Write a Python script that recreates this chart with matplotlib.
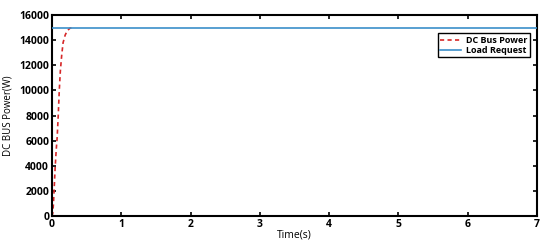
import matplotlib
matplotlib.use("Agg")
import matplotlib.pyplot as plt

t_dc = [0, 0.01, 0.02, 0.03, 0.045, 0.06, 0.075, 0.09, 0.105, 0.12, 0.14, 0.16, 0.19, 0.22, 0.26, 0.29]
p_dc = [0, 200, 900, 2000, 3800, 5200, 6300, 8000, 10000, 11500, 12800, 13800, 14400, 14750, 14950, 15000]
t_load = [0, 7]
p_load = [15000, 15000]
xticks = [0, 1, 2, 3, 4, 5, 6, 7]
yticks = [0, 2000, 4000, 6000, 8000, 10000, 12000, 14000, 16000]

plt.rcParams['font.family'] = ['Open Sans', 'DejaVu Sans']
fig = plt.figure(figsize=(5.5, 2.46), dpi=100)
ax = fig.add_axes([52/550, 1-216/246, 485/550, 201/246])
ax.plot(t_dc, p_dc, color='#d62728', ls=(0, (2.5, 2)), lw=1.2, label='DC Bus Power', zorder=2)
ax.plot(t_load, p_load, color='#3b8fc9', lw=1.2, label='Load Request', zorder=3)
ax.set_xlim(0, 7)
ax.set_ylim(0, 16000)
ax.set_xticks(xticks)
ax.set_yticks(yticks)
ax.tick_params(direction='in', top=True, right=True, length=3, width=1.2, labelsize=7.5, pad=2)
for lab in ax.get_xticklabels() + ax.get_yticklabels():
    lab.set_fontweight('bold')
for s in ax.spines.values():
    s.set_linewidth(1.5)
ax.set_xlabel('Time(s)', fontsize=7.5, labelpad=0)
ax.set_ylabel('DC BUS Power(W)', fontsize=7, labelpad=4)
leg = ax.legend(loc='upper right', bbox_to_anchor=(0.985, 0.91), fontsize=6.5, frameon=True,
                fancybox=False, edgecolor='black', framealpha=1, borderpad=0.3,
                handlelength=2.3, labelspacing=0.1, handletextpad=0.5, borderaxespad=0)
leg.get_frame().set_linewidth(1.0)
for txt in leg.get_texts():
    txt.set_fontweight('bold')
fig.savefig('out.png', dpi=100)
